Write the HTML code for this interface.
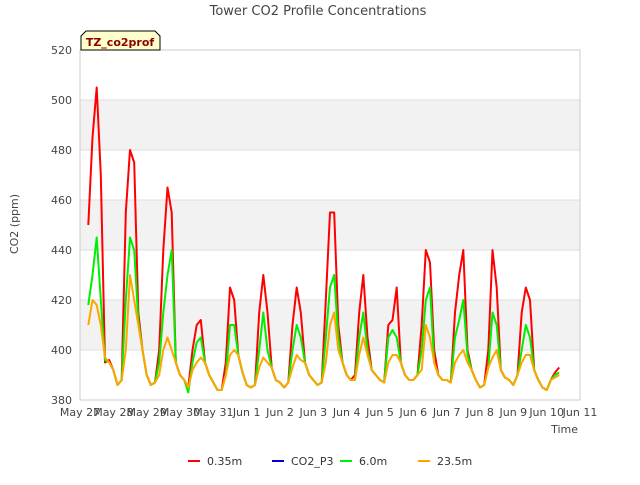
<!DOCTYPE html>
<html><head><meta charset="utf-8">
<style>
body{margin:0;background:#fff;font-family:"Liberation Sans","DejaVu Sans",sans-serif;}
svg text{font-family:"DejaVu Sans","Liberation Sans",sans-serif;}
</style></head>
<body>
<svg id="chart" width="640" height="480" viewBox="0 0 640 480" xmlns="http://www.w3.org/2000/svg">
<rect width="640" height="480" fill="#fff"/>
<text x="318" y="15" text-anchor="middle" font-size="13" fill="#444">Tower CO2 Profile Concentrations</text>
<g id="grid"></g>
<g id="series"></g>
<g id="axes"></g>
<text x="18" y="224" transform="rotate(-90 18 224)" text-anchor="middle" font-size="11" fill="#444">CO2 (ppm)</text>
<text x="578" y="433" text-anchor="end" font-size="11" fill="#444">Time</text>
<g>
<path d="M81,50 L81,36 L86,31 L155,31 L160,36 L160,50 Z" fill="#ffffcc" stroke="#000" stroke-width="1"/>
<text x="120" y="46" text-anchor="middle" font-size="11" font-weight="bold" fill="#8b0000">TZ_co2prof</text>
</g>
<g id="legend"></g>
</svg>
<script>
const yTicks=[380,400,420,440,460,480,500,520];
const xTickLabels=["May 27","May 28","May 29","May 30","May 31","Jun 1","Jun 2","Jun 3","Jun 4","Jun 5","Jun 6","Jun 7","Jun 8","Jun 9","Jun 10","Jun 11"];
const seriesNames=["0.35m","CO2_P3","6.0m","23.5m"];
const seriesColors=["#ff0000","#0000cc","#00ee00","#ffa500"];
const startDay=0.25, stepDay=0.125;
const red=[450,485,505,470,395,396,
392,386,388,455,480,475,415,400,
390,386,387,400,440,465,455,395,
390,388,385,400,410,412,395,390,
387,384,384,395,425,420,398,391,
386,385,386,415,430,415,393,388,
387,385,387,410,425,415,395,390,
388,386,387,420,455,455,410,395,
390,388,390,415,430,405,392,390,
388,387,410,412,425,395,390,388,
388,390,410,440,435,400,390,388,
388,387,415,430,440,400,392,388,
385,386,400,440,425,392,389,388,
386,390,415,425,420,392,388,385,
384,388,391,393];
const p3=[];
const green=[418,430,445,420,396,395,
392,386,388,420,445,440,412,400,
390,386,387,395,415,430,440,395,
390,388,383,395,403,405,395,390,
387,384,384,390,410,410,398,391,
386,385,386,400,415,400,393,388,
387,385,387,400,410,405,395,390,
388,386,387,405,425,430,405,395,
390,388,388,405,415,400,392,390,
388,387,405,408,405,395,390,388,
388,390,400,420,425,395,390,388,
388,387,405,412,420,398,392,388,
385,386,393,415,410,392,389,388,
386,390,400,410,405,392,388,385,
384,388,390,391];
const orange=[410,420,418,410,397,395,
392,386,388,400,430,420,410,400,
390,386,387,390,400,405,400,395,
390,388,385,392,395,397,395,390,
387,384,384,390,398,400,398,391,
386,385,386,393,397,395,393,388,
387,385,387,393,398,396,395,390,
388,386,387,395,410,415,400,395,
390,388,388,398,405,398,392,390,
388,387,395,398,398,395,390,388,
388,390,392,410,405,395,390,388,
388,387,395,398,400,395,392,388,
385,386,393,397,400,392,389,388,
386,390,395,398,398,392,388,385,
384,388,389,390];
const X0=80,X1=580,Y0=400,Y1=50,dayMin=0,dayMax=15,vMin=380,vMax=520;
const xs=d=>X0+(d-dayMin)/(dayMax-dayMin)*(X1-X0);
const ys=v=>Y0-(v-vMin)/(vMax-vMin)*(Y0-Y1);
const NS="http://www.w3.org/2000/svg";
function mk(tag,attrs,parent){const e=document.createElementNS(NS,tag);for(const k in attrs)e.setAttribute(k,attrs[k]);parent.appendChild(e);return e;}
const grid=document.getElementById('grid');
for(let i=0;i<yTicks.length-1;i++){
  if(i%2===1){
    const r=mk('rect',{x:X0,y:ys(yTicks[i+1]),width:X1-X0,height:ys(yTicks[i])-ys(yTicks[i+1]),fill:'#f2f2f2'},grid);
    
    
  }
}
yTicks.forEach(v=>{
  const l=mk('line',{x1:X0,x2:X1,y1:ys(v),y2:ys(v),stroke:'#dddddd','stroke-width':1},grid);
  
  
});
const axes=document.getElementById('axes');
const frame=mk('rect',{x:X0,y:Y1,width:X1-X0,height:Y0-Y1,fill:'none',stroke:'#cccccc','stroke-width':1},axes);


yTicks.forEach(v=>{
  const t=mk('text',{x:X0-8,y:ys(v)+4,'text-anchor':'end','font-size':11,fill:'#444'},axes);
  t.textContent=v;
  
  
});
xTickLabels.forEach((s,i)=>{
  const t=mk('text',{x:xs(i),y:416,'text-anchor':'middle','font-size':11,fill:'#444'},axes);
  t.textContent=s;
  
  
});
const sg=document.getElementById('series');
[[red,0],[p3,1],[green,2],[orange,3]].forEach(([arr,k])=>{
  if(!arr.length)return;
  const pts=arr.map((v,i)=>xs(startDay+i*stepDay).toFixed(1)+','+ys(v).toFixed(1)).join(' ');
  const pl=mk('polyline',{points:pts,fill:'none',stroke:seriesColors[k],'stroke-width':2,'stroke-linejoin':'round'},sg);
  
  
});
const lg=document.getElementById('legend');
const lx=[188,272,340,418];
seriesNames.forEach((n,k)=>{
  const g=mk('g',{},lg);
  
  
  mk('line',{x1:lx[k],x2:lx[k]+12,y1:461,y2:461,stroke:seriesColors[k],'stroke-width':2},g);
  const t=mk('text',{x:lx[k]+19,y:465,'font-size':11,fill:'#333'},g);
  t.textContent=n;
});
</script>
</body></html>
